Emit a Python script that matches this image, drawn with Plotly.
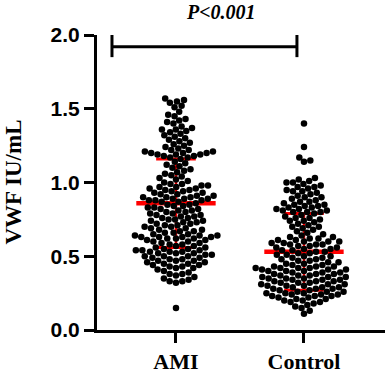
import math
import plotly.graph_objects as go

# ---------------- data ----------------
categories = ["AMI", "Control"]

ami_values = [
    1.57, 1.56, 1.55, 1.54, 1.52, 1.51,
    1.48, 1.46, 1.45, 1.43, 1.42, 1.41, 1.40, 1.38, 1.37, 1.36, 1.36, 1.35, 1.34, 1.33, 1.32, 1.31, 1.30,
    1.29, 1.28, 1.27, 1.26, 1.25, 1.24, 1.23, 1.22, 1.22, 1.21, 1.21, 1.20, 1.20, 1.20, 1.19, 1.19, 1.19,
    1.18, 1.18, 1.17, 1.17, 1.16,
    1.14, 1.13, 1.12, 1.11, 1.10, 1.09, 1.08, 1.07, 1.06, 1.05, 1.04, 1.03, 1.02, 1.01, 1.00,
    0.99, 0.99, 0.98, 0.98, 0.97, 0.97, 0.96, 0.96, 0.95, 0.95, 0.94, 0.94, 0.93, 0.93, 0.92, 0.92,
    0.91, 0.91, 0.90, 0.90, 0.90, 0.89, 0.89, 0.89, 0.88, 0.88, 0.88, 0.87, 0.87, 0.86,
    0.85, 0.85, 0.84, 0.84, 0.83, 0.83, 0.82, 0.82, 0.81, 0.81, 0.80, 0.80, 0.79, 0.79, 0.78, 0.78,
    0.77, 0.77, 0.76, 0.76, 0.75, 0.75, 0.74, 0.74, 0.73, 0.73, 0.72, 0.72, 0.71, 0.71, 0.70, 0.70,
    0.69, 0.69, 0.68, 0.68, 0.67, 0.67, 0.66, 0.66,
    0.65, 0.65, 0.64, 0.64, 0.64, 0.63, 0.63, 0.63, 0.63, 0.62, 0.62, 0.62, 0.61, 0.61, 0.60, 0.60,
    0.59, 0.59, 0.58, 0.58, 0.57, 0.57, 0.56,
    0.56, 0.55, 0.55, 0.54, 0.54, 0.54, 0.53, 0.53, 0.53, 0.52, 0.52, 0.52, 0.51, 0.51, 0.50, 0.50,
    0.50, 0.49, 0.49, 0.48, 0.48, 0.47, 0.47, 0.47, 0.46, 0.46, 0.45, 0.45,
    0.44, 0.44, 0.43, 0.43, 0.42, 0.42, 0.41, 0.40, 0.39, 0.38, 0.38, 0.37, 0.36, 0.35, 0.34, 0.33,
    0.33, 0.32,
    0.15,
]

control_values = [
    1.40, 1.24, 1.17, 1.15, 1.14,
    1.03, 1.02, 1.01, 1.00, 1.00, 0.99, 0.98, 0.97, 0.97, 0.96, 0.95, 0.94, 0.94, 0.93, 0.92, 0.91,
    0.90, 0.90, 0.89, 0.88, 0.87, 0.87, 0.86, 0.85, 0.85, 0.84, 0.84, 0.83, 0.83, 0.82, 0.82, 0.81,
    0.81, 0.80, 0.80, 0.80, 0.79,
    0.78, 0.77, 0.76, 0.76, 0.75, 0.74, 0.74, 0.73, 0.72, 0.71, 0.70, 0.70, 0.69, 0.68, 0.67, 0.66,
    0.65, 0.64, 0.63, 0.63, 0.62, 0.62, 0.61, 0.61, 0.60, 0.60, 0.60, 0.59, 0.59, 0.58, 0.58, 0.58,
    0.57, 0.57, 0.56, 0.56, 0.55, 0.55, 0.54, 0.54, 0.53, 0.53,
    0.52, 0.52, 0.51, 0.51, 0.50, 0.50, 0.49, 0.49, 0.48, 0.48, 0.47, 0.47, 0.46, 0.46, 0.45, 0.45,
    0.44, 0.44, 0.43, 0.43, 0.43, 0.42, 0.42, 0.42, 0.42, 0.41, 0.41, 0.41, 0.40, 0.40, 0.40, 0.39,
    0.39, 0.39, 0.38, 0.38, 0.38, 0.37, 0.37, 0.37, 0.36, 0.36, 0.36, 0.35, 0.35, 0.35, 0.34, 0.34,
    0.34, 0.33, 0.33, 0.33, 0.32, 0.32, 0.32, 0.31, 0.31, 0.31, 0.30, 0.30, 0.30, 0.29, 0.29, 0.29,
    0.28, 0.28, 0.28, 0.27, 0.27,
    0.26, 0.26, 0.26, 0.25, 0.25, 0.25, 0.24, 0.24, 0.24, 0.23, 0.23, 0.23, 0.22, 0.22, 0.21, 0.21,
    0.20, 0.20, 0.19, 0.19, 0.18, 0.17, 0.16, 0.15, 0.13, 0.11,
]

medians = [0.86, 0.53]
q1_values = [0.56, 0.27]
q3_values = [1.16, 0.79]

y_tick_values = [0.0, 0.5, 1.0, 1.5, 2.0]
y_tick_labels = ["0.0", "0.5", "1.0", "1.5", "2.0"]
p_label = "P<0.001"
y_title = "VWF IU/mL"

# ---------------- layout geometry ----------------
W, H = 390, 379
M_L, M_R, M_T, M_B = 97, 5, 35, 42
X_RANGE = [0.383, 2.633]
Y_RANGE = [0.0, 2.0]
plot_w = W - M_L - M_R
plot_h = H - M_T - M_B
px_per_x = plot_w / (X_RANGE[1] - X_RANGE[0])
px_per_y = plot_h / (Y_RANGE[1] - Y_RANGE[0])

DOT = 6.5          # marker diameter (px)
SPACING = 6.5      # min centre distance in swarm (px)


def swarm_offsets(values):
    """Beeswarm: place each point at the smallest horizontal offset without overlap."""
    order = sorted(range(len(values)), key=lambda i: values[i])
    placed = []
    offsets = [0.0] * len(values)
    for i in order:
        y = values[i] * px_per_y
        near = [(xj, y - yj) for xj, yj in placed if abs(y - yj) < SPACING]
        cands = [0.0]
        for xj, dy in near:
            dx = math.sqrt(SPACING ** 2 - dy ** 2)
            cands += [xj + dx, xj - dx]
        cands.sort(key=lambda c: (abs(c), -c))
        chosen = 0.0
        for c in cands:
            if all((c - xj) ** 2 + dy ** 2 >= SPACING ** 2 - 1e-6 for xj, dy in near):
                chosen = c
                break
        placed.append((chosen, y))
        offsets[i] = chosen / px_per_x
    return offsets


fig = go.Figure()

RED = "#ff0000"
MED_HALF = 0.31
CAP_HALF = 0.155

series = [ami_values, control_values]
for k, vals in enumerate(series):
    cx = k + 1
    fig.add_trace(go.Scatter(x=[cx, cx], y=[q1_values[k], q3_values[k]], mode="lines",
                             line=dict(color=RED, width=2.5), showlegend=False, hoverinfo="skip"))
    for q in (q1_values[k], q3_values[k]):
        fig.add_trace(go.Scatter(x=[cx - CAP_HALF, cx + CAP_HALF], y=[q, q], mode="lines",
                                 line=dict(color=RED, width=3), showlegend=False, hoverinfo="skip"))
    fig.add_trace(go.Scatter(x=[cx - MED_HALF, cx + MED_HALF], y=[medians[k], medians[k]], mode="lines",
                             line=dict(color=RED, width=4.5), showlegend=False, hoverinfo="skip"))

for k, vals in enumerate(series):
    cx = k + 1
    offs = swarm_offsets(vals)
    fig.add_trace(go.Scatter(
        x=[cx + o for o in offs], y=vals, mode="markers",
        marker=dict(color="black", size=DOT, line=dict(width=0)),
        name=categories[k], showlegend=False, cliponaxis=False,
    ))

# significance bar
SIG_X = [0.5, 1.945]
SIG_Y = 1.92
SIG_CAP = [1.85, 2.0]
for xs, ys in [([SIG_X[0], SIG_X[1]], [SIG_Y, SIG_Y]),
               ([SIG_X[0], SIG_X[0]], SIG_CAP),
               ([SIG_X[1], SIG_X[1]], SIG_CAP)]:
    fig.add_shape(type="line", x0=xs[0], x1=xs[1], y0=ys[0], y1=ys[1], xref="x", yref="y",
                  line=dict(color="black", width=3))

fig.add_annotation(text=f"<b><i>{p_label}</i></b>", x=(221 - M_L) / plot_w, y=(H - M_B - 11) / plot_h,
                   xref="paper", yref="paper", showarrow=False, xanchor="center", yanchor="middle",
                   font=dict(family="Liberation Serif", size=20, color="black"))

fig.add_annotation(text=f"<b>{y_title}</b>", x=(13 - M_L) / plot_w, y=0.5,
                   xref="paper", yref="paper", showarrow=False, textangle=-90,
                   xanchor="center", yanchor="middle",
                   font=dict(family="Liberation Serif", size=23, color="black"))

fig.update_layout(
    width=W, height=H,
    margin=dict(l=M_L, r=M_R, t=M_T, b=M_B, pad=0),
    paper_bgcolor="white", plot_bgcolor="white",
    xaxis=dict(range=X_RANGE, tickvals=[1, 2], ticktext=[f"<b>{c}</b>" for c in categories],
               showline=True, linecolor="black", linewidth=3, ticks="outside", ticklen=10,
               tickwidth=3, tickcolor="black", showgrid=False, zeroline=False,
               tickfont=dict(family="Liberation Serif", size=22, color="black")),
    yaxis=dict(range=Y_RANGE, tickvals=y_tick_values, ticktext=[f"<b>{t}</b>" for t in y_tick_labels],
               showline=True, linecolor="black", linewidth=3, ticks="outside", ticklen=10,
               tickwidth=3, tickcolor="black", showgrid=False, zeroline=False,
               tickfont=dict(family="Liberation Sans", size=21, color="black")),
)

fig.write_html("out.html", config={"displayModeBar": False},
               post_script="document.body.style.margin='0px';document.body.style.padding='0px';")
